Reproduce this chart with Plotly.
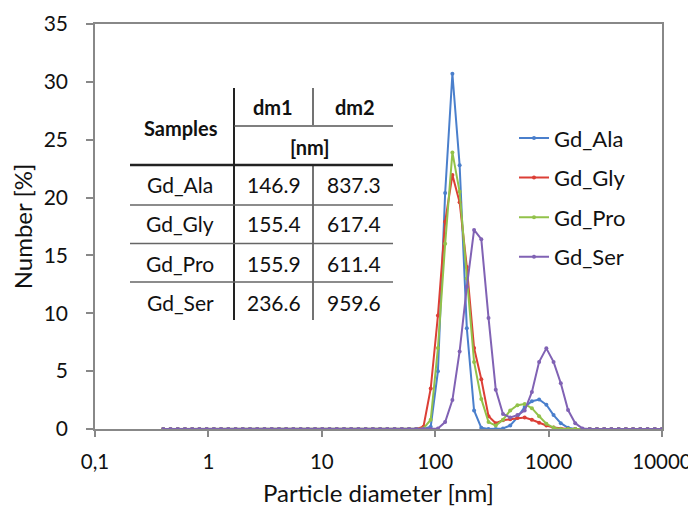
import plotly.graph_objects as go

# Particle size bins (nm)
diameter_nm = [0.4, 0.4632, 0.5365, 0.6213, 0.7195, 0.8332, 0.9649, 1.117, 1.294, 1.499,
               1.736, 2.01, 2.328, 2.696, 3.122, 3.615, 4.187, 4.849, 5.615, 6.503,
               7.531, 8.721, 10.1, 11.7, 13.54, 15.69, 18.17, 21.04, 24.36, 28.21,
               32.67, 37.84, 43.82, 50.75, 58.77, 68.06, 78.82, 91.28, 105.7, 122.4,
               141.8, 164.2, 190.1, 220.2, 255.0, 295.3, 342.0, 396.1, 458.7, 531.2,
               615.1, 712.4, 825.0, 955.4, 1106, 1281, 1484, 1718, 1990, 2305,
               2669, 3091, 3580, 4145, 4801, 5560, 6439, 7456, 8635, 10000]

gd_ala = [0, 0, 0, 0, 0, 0, 0, 0, 0, 0,
          0, 0, 0, 0, 0, 0, 0, 0, 0, 0,
          0, 0, 0, 0, 0, 0, 0, 0, 0, 0,
          0, 0, 0, 0, 0, 0, 0, 0.2, 5.0, 20.4,
          30.7, 22.8, 8.7, 1.6, 0.1, 0, 0, 0.05, 0.3, 1.0,
          1.9, 2.4, 2.55, 2.1, 1.2, 0.5, 0.1, 0, 0, 0,
          0, 0, 0, 0, 0, 0, 0, 0, 0, 0]

gd_gly = [0, 0, 0, 0, 0, 0, 0, 0, 0, 0,
          0, 0, 0, 0, 0, 0, 0, 0, 0, 0,
          0, 0, 0, 0, 0, 0, 0, 0, 0, 0,
          0, 0, 0, 0, 0, 0, 0.2, 3.5, 9.8, 17.9,
          21.95, 19.6, 14.0, 7.0, 4.3, 1.1, 0.5, 0.75, 0.85, 0.95,
          1.0, 0.8, 0.55, 0.3, 0.12, 0.03, 0, 0, 0, 0,
          0, 0, 0, 0, 0, 0, 0, 0, 0, 0]

gd_pro = [0, 0, 0, 0, 0, 0, 0, 0, 0, 0,
          0, 0, 0, 0, 0, 0, 0, 0, 0, 0,
          0, 0, 0, 0, 0, 0, 0, 0, 0, 0,
          0, 0, 0, 0, 0, 0, 0.05, 0.8, 7.0, 16.0,
          23.9, 20.5, 13.0, 5.8, 2.6, 0.6, 0.3, 0.8, 1.6, 2.05,
          2.15, 1.8, 1.1, 0.45, 0.12, 0, 0, 0, 0, 0,
          0, 0, 0, 0, 0, 0, 0, 0, 0, 0]

gd_ser = [0, 0, 0, 0, 0, 0, 0, 0, 0, 0,
          0, 0, 0, 0, 0, 0, 0, 0, 0, 0,
          0, 0, 0, 0, 0, 0, 0, 0, 0, 0,
          0, 0, 0, 0, 0, 0, 0, 0, 0.05, 0.6,
          2.5, 6.7, 12.3, 17.2, 16.4, 9.6, 3.4, 1.3, 1.0, 1.2,
          1.6, 3.2, 5.8, 6.97, 5.8, 3.95, 1.64, 0.5, 0.05, 0,
          0, 0, 0, 0, 0, 0, 0, 0, 0, 0]

series_names = ["Gd_Ala", "Gd_Gly", "Gd_Pro", "Gd_Ser"]
series_values = [gd_ala, gd_gly, gd_pro, gd_ser]
series_colors = ["#4A7FCC", "#DC3F36", "#92C24A", "#8062B4"]

# Inset table
table_samples = ["Gd_Ala", "Gd_Gly", "Gd_Pro", "Gd_Ser"]
table_dm1 = ["146.9", "155.4", "155.9", "236.6"]
table_dm2 = ["837.3", "617.4", "611.4", "959.6"]

x_tickvals = [0.1, 1, 10, 100, 1000, 10000]
x_ticktext = ["0,1", "1", "10", "100", "1000", "10000"]

FONT = "Lato, 'Open Sans', sans-serif"
OFF = 8                      # page body margin of the browser
WIN_W, WIN_H = 696, 514
W, H = WIN_W - OFF, WIN_H - OFF
# plot area in window pixels
PX0, PX1, PY0, PY1 = 95, 662, 24, 429
L, R, T, B = PX0 - OFF, WIN_W - PX1, PY0 - OFF, WIN_H - PY1

fig = go.Figure()
for name, vals, col in zip(series_names, series_values, series_colors):
    fig.add_trace(go.Scatter(
        x=diameter_nm, y=vals, name=name, mode="lines+markers",
        line=dict(color=col, width=2),
        marker=dict(color=col, size=4),
        legendgroup=name,
    ))

# window pixel -> paper helpers for the inset table
def px(xp):
    return (xp - PX0) / (PX1 - PX0)

def py(yp):
    return (PY1 - yp) / (PY1 - PY0)

shapes = []
def hline(y, x0, x1, w, c):
    shapes.append(dict(type="line", xref="paper", yref="paper",
                       x0=px(x0), x1=px(x1), y0=py(y), y1=py(y),
                       line=dict(color=c, width=w)))

def vline(x, y0, y1, w, c):
    shapes.append(dict(type="line", xref="paper", yref="paper",
                       x0=px(x), x1=px(x), y0=py(y0), y1=py(y1),
                       line=dict(color=c, width=w)))

vline(234, 88, 320, 2, "#222222")
vline(313, 88, 125, 1.5, "#444444")
vline(313, 165, 320, 1.5, "#444444")
hline(126, 234, 393, 1.5, "#555555")
hline(165, 130, 393, 2.5, "#222222")
for yy in [205, 243.5, 282]:
    hline(yy, 130, 393, 1.5, "#666666")

annotations = []
def txt(x, y, s, size=17, bold=False):
    annotations.append(dict(xref="paper", yref="paper", x=px(x), y=py(y),
                            text=("<b>%s</b>" % s) if bold else s, showarrow=False,
                            xanchor="center", yanchor="middle",
                            font=dict(family=FONT, size=size, color="#111111")))

txt(181, 128, "Samples", 20, True)
txt(273, 107, "dm1", 20, True)
txt(355, 107, "dm2", 20, True)
txt(310, 147, "[nm]", 20, True)
row_y = [185, 223.5, 263, 302]
for s, a, b, yy in zip(table_samples, table_dm1, table_dm2, row_y):
    txt(180, yy, s, 21)
    txt(274, yy, a, 21)
    txt(354, yy, b, 21)

fig.update_layout(
    width=W, height=H,
    margin=dict(l=L, r=R, t=T, b=B, autoexpand=False),
    plot_bgcolor="white", paper_bgcolor="white",
    font=dict(family=FONT, color="#111111"),
    showlegend=True,
    legend=dict(x=0.739, y=0.77, xanchor="left", yanchor="top",
                font=dict(family=FONT, size=22, color="#111111"),
                bgcolor="rgba(0,0,0,0)", tracegroupgap=8, itemwidth=30),
    shapes=shapes,
    annotations=annotations,
    xaxis=dict(type="log", range=[-1, 4], tickvals=x_tickvals, ticktext=x_ticktext,
               ticks="outside", ticklen=6, tickcolor="#888888", tickwidth=1.5,
               showline=True, linecolor="#888888", linewidth=1.5, mirror=True,
               showgrid=False, zeroline=False, automargin=False, ticklabelstandoff=8,
               tickfont=dict(family=FONT, size=20.5, color="#111111"),
               title=dict(text="Particle diameter [nm]", standoff=13,
                          font=dict(family=FONT, size=24, color="#111111"))),
    yaxis=dict(range=[0, 35], dtick=5, ticks="outside", ticklen=7, tickcolor="#888888",
               tickwidth=1.5, showline=True, linecolor="#888888", linewidth=1.5, mirror=True,
               showgrid=False, zeroline=False, ticklabelstandoff=14, automargin=False,
               tickfont=dict(family=FONT, size=21, color="#111111"),
               title=dict(text="Number [%]", standoff=6,
                          font=dict(family=FONT, size=24, color="#111111"))),
)

fig.write_html("out.html")
